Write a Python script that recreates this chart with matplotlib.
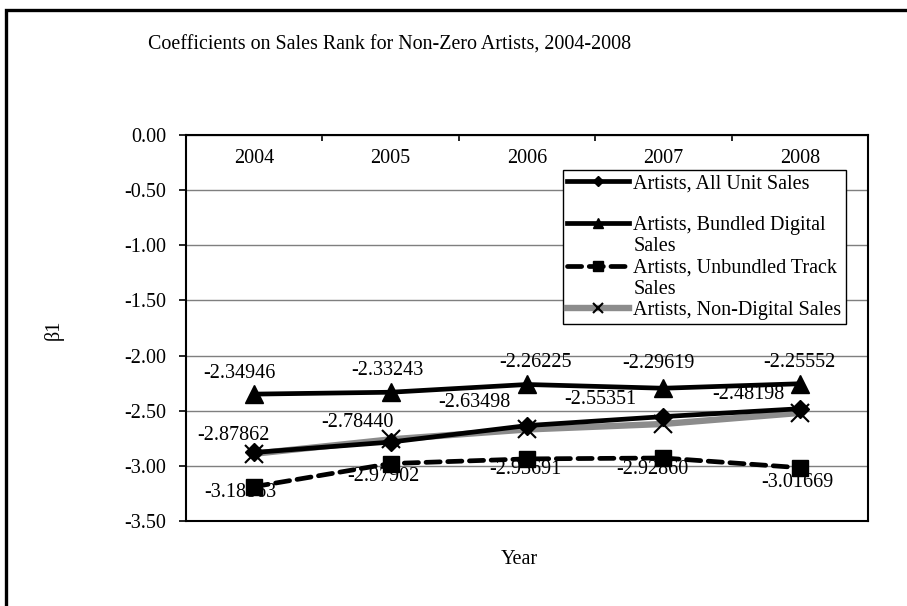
import matplotlib
matplotlib.use("Agg")
import matplotlib.pyplot as plt
from matplotlib.lines import Line2D
from matplotlib.patches import Rectangle

plt.rcParams['font.family'] = ['Liberation Serif', 'DejaVu Serif']

years = ['2004', '2005', '2006', '2007', '2008']
all_unit = [-2.87862, -2.78440, -2.63498, -2.55351, -2.48198]
bundled = [-2.34946, -2.33243, -2.26225, -2.29619, -2.25552]
unbundled = [-3.18863, -2.97902, -2.93691, -2.92860, -3.01669]
non_digital = [-2.89, -2.76, -2.67, -2.62, -2.52]
yticks = [0.0, -0.5, -1.0, -1.5, -2.0, -2.5, -3.0, -3.5]

# label offsets (pixels) for each series
off_all = [(-21, 17), (-33, 20), (-53, 23), (-63, 17), (-51, 14)]
off_bun = [(-15, 21), (-3, 22), (8, 22), (-5, 25), (0, 21)]
off_unb = [(-14, -6), (-7, -13), (-2, -11), (-11, -12), (-2, -15)]

fig = plt.figure(figsize=(9.07, 6.06), dpi=100)
ax = fig.add_axes([186 / 907, 1 - 521 / 606, 682 / 907, 386 / 606])

x = list(range(len(years)))

l_non, = ax.plot(x, non_digital, color='#8c8c8c', lw=4.6, marker='x', ms=13,
                 mec='black', mew=1.5, zorder=2.6,
                 label='Artists, Non-Digital Sales')
l_all, = ax.plot(x, all_unit, color='black', lw=3.4, marker='D', ms=9,
                 zorder=3, label='Artists, All Unit Sales')
l_bun, = ax.plot(x, bundled, color='black', lw=3.4, marker='^', ms=13,
                 zorder=3, label='Artists, Bundled Digital')
l_unb, = ax.plot(x, unbundled, color='black', lw=3.4, marker='s', ms=12,
                 linestyle=(0, (3.0, 1.6)), dash_capstyle='round', zorder=3,
                 label='Artists, Unbundled Track')

fs = 14.5
for xi, v, (dx, dy) in zip(x, all_unit, off_all):
    ax.annotate(f'{v:.5f}', (xi, v), xytext=(dx, dy), textcoords='offset pixels',
                ha='center', va='center', fontsize=fs, zorder=5)
for xi, v, (dx, dy) in zip(x, bundled, off_bun):
    ax.annotate(f'{v:.5f}', (xi, v), xytext=(dx, dy), textcoords='offset pixels',
                ha='center', va='center', fontsize=fs, zorder=5)
for xi, v, (dx, dy) in zip(x, unbundled, off_unb):
    ax.annotate(f'{v:.5f}', (xi, v), xytext=(dx, dy), textcoords='offset pixels',
                ha='center', va='center', fontsize=fs, zorder=2)

ax.set_xlim(-0.5, len(years) - 0.5)
ax.set_ylim(-3.5, 0.0)
ax.set_yticks(yticks)
ax.set_yticklabels([f'{t:.2f}' for t in yticks], fontsize=fs)
ax.yaxis.grid(True, color='#7f7f7f', lw=1.0)
ax.set_axisbelow(True)
ax.tick_params(axis='y', direction='out', length=5, width=1.2, pad=9)

ax.set_xticks(x)
ax.set_xticklabels(years, fontsize=fs)
ax.set_xticks([i + 0.5 for i in x[:-1]], minor=True)
ax.tick_params(axis='x', which='major', top=True, labeltop=True, bottom=False,
               labelbottom=False, length=0, pad=-24)
ax.tick_params(axis='x', which='minor', top=True, bottom=False,
               direction='in', length=4, width=1.2)

for s in ax.spines.values():
    s.set_linewidth(1.5)
    s.set_color('black')

blank = Line2D([], [], linestyle='none')
handles = [l_all, blank, l_bun, blank, l_unb, blank, l_non]
labels = ['Artists, All Unit Sales', ' ', 'Artists, Bundled Digital', 'Sales',
          'Artists, Unbundled Track', 'Sales', 'Artists, Non-Digital Sales']
leg = ax.legend(handles, labels, loc='upper left',
                bbox_to_anchor=((563 - 186) / 682, (521 - 170) / 386),
                fontsize=fs, frameon=True, fancybox=False, framealpha=1,
                edgecolor='black', handlelength=3.1, handletextpad=0.2,
                labelspacing=0.1, borderpad=0.2, borderaxespad=0,
                markerscale=0.6)
leg.get_frame().set_linewidth(1.0)

fig.text(390 / 907, 1 - 45 / 606, 'Coefficients on Sales Rank for Non-Zero Artists, 2004-2008',
         ha='center', va='center', fontsize=14.4)
fig.text(519 / 907, 1 - 560 / 606, 'Year', ha='center', va='center', fontsize=fs)
fig.text(54 / 907, 1 - 330 / 606, 'β1', ha='center', va='center', fontsize=fs,
         rotation=90)

fig.patches.append(Rectangle((5.5 / 907, -0.1), 1.2, 1 - 9.5 / 606 + 0.1,
                             transform=fig.transFigure, fill=False,
                             edgecolor='black', lw=2.4))

fig.savefig('out.png', dpi=100)
